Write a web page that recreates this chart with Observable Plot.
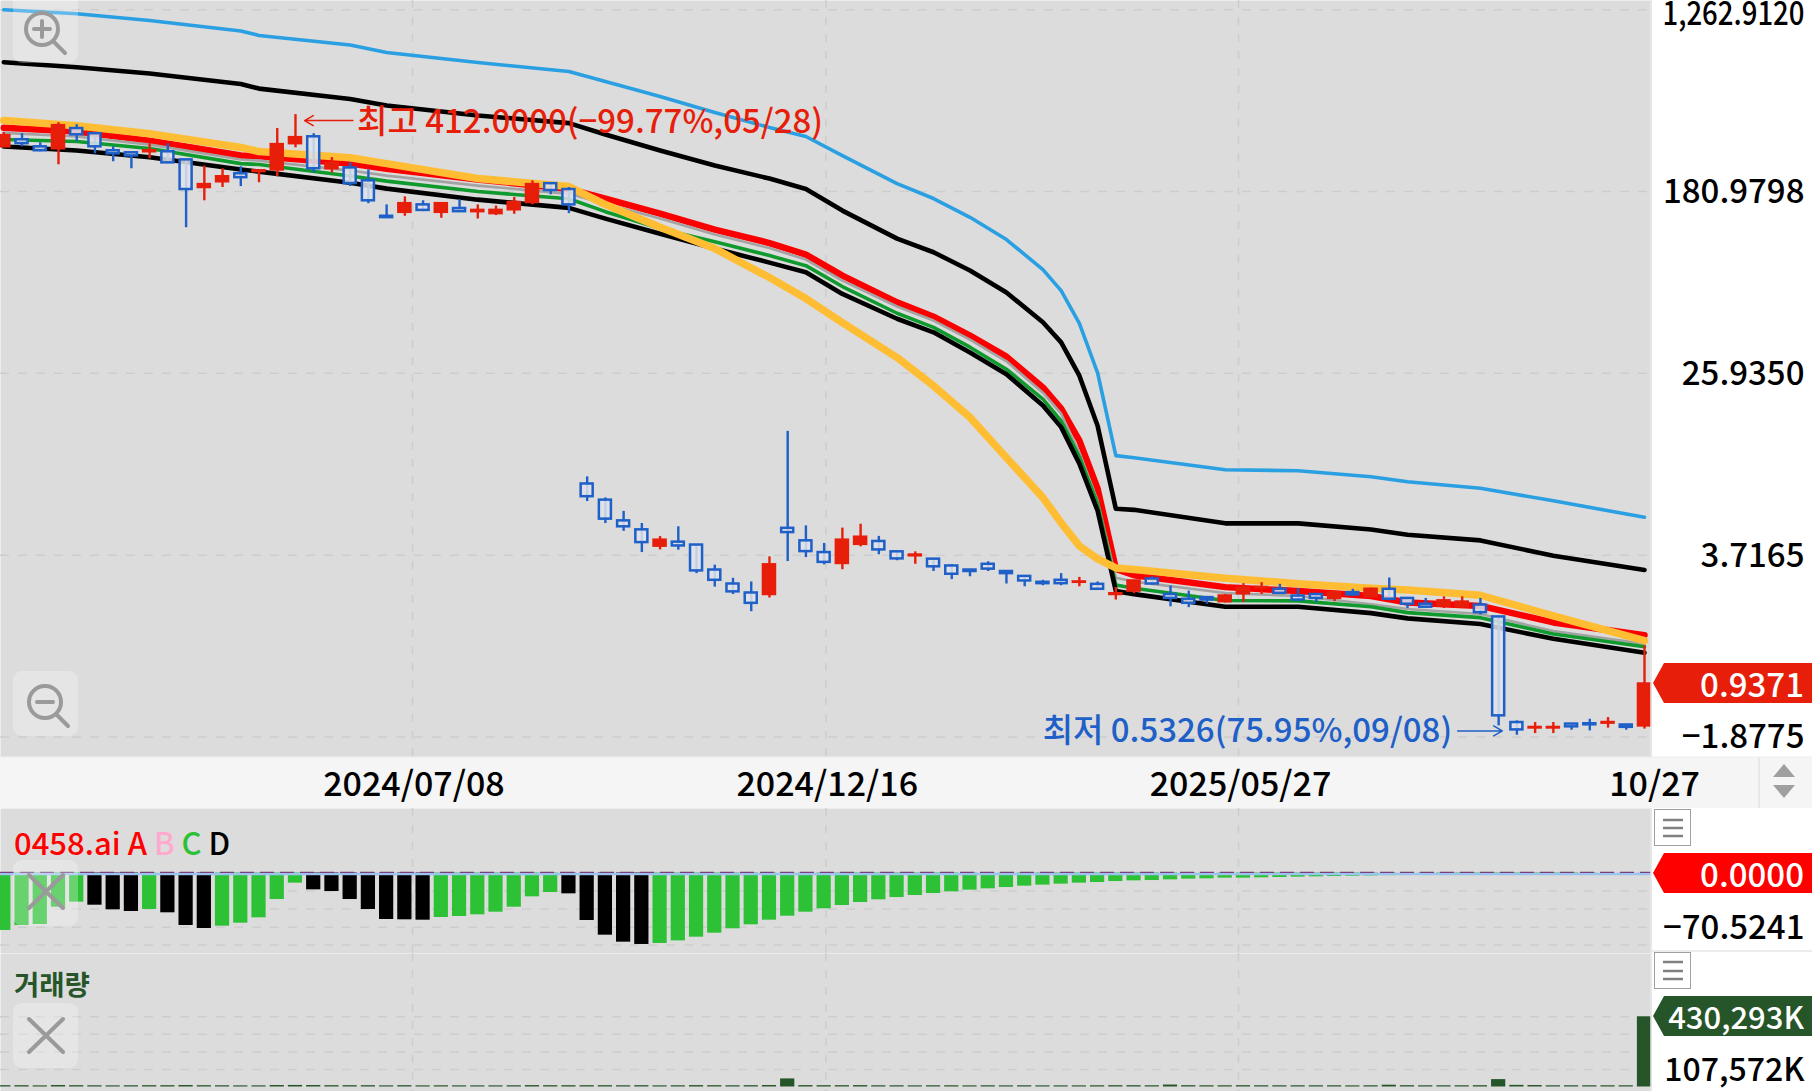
<!DOCTYPE html>
<html><head><meta charset="utf-8">
<script src="https://cdn.jsdelivr.net/npm/d3@7"></script>
<script src="https://cdn.jsdelivr.net/npm/@observablehq/plot@0.6"></script>
<style>
html,body{margin:0;padding:0;background:#fff;width:1812px;height:1091px;overflow:hidden;font-family:"Noto Sans CJK KR","Noto Sans",sans-serif}
#wrap{position:relative;width:1812px;height:1091px}
.pane{position:absolute;left:0}
.pane svg{display:block}
.tag{position:absolute;left:1653px;width:159px;height:40px;color:#fff;font-size:33px;font-weight:500;line-height:40px;text-align:right;box-sizing:border-box;padding-right:8px;clip-path:polygon(0 50%,11px 0,100% 0,100% 100%,11px 100%)}
.lab{position:absolute;left:14px;white-space:pre;font-weight:500}
#icons{position:absolute;left:0;top:0;pointer-events:none}
</style></head><body><div id="wrap"></div>
<script>
// ---- candle values, index 0..90 ----
const open = [292,315,292,286,355,336,280,274,277,277,254,189,201,219,224,228,302,325,231,233,203,139,145,157,145,151,146,143,149,161,197,185,
 7.95,6.69,5.36,4.87,4.09,4.27,4.14,3.17,2.73,2.48,2.44,4.95,4.33,3.82,3.40,4.17,4.30,3.85,3.69,3.56,3.31,3.17,3.37,3.12,2.96,2.78,2.84,2.78,2.72,2.44,
 2.53,2.88,2.44,2.32,2.36,2.26,2.46,2.62,2.58,2.40,2.44,2.34,2.49,2.38,2.58,2.34,2.20,2.16,2.14,2.18,1.92,0.621,0.586,0.586,0.611,0.613,0.617,0.605,0.599];
const high = [340,336,305,378,370,336,292,274,302,302,254,238,231,236,226,355,412,336,260,246,228,157,171,164,159,166,157,155,170,203,197,189,
 8.58,6.85,5.93,5.21,4.53,5.03,4.14,3.34,2.90,2.79,3.65,13.95,5.08,4.21,4.96,5.17,4.54,3.85,3.85,3.56,3.36,3.17,3.46,3.12,2.96,2.84,3.05,2.93,2.79,2.63,
 2.82,2.95,2.67,2.53,2.39,2.44,2.74,2.77,2.72,2.60,2.44,2.49,2.58,2.61,2.91,2.36,2.34,2.38,2.38,2.34,1.92,0.632,0.621,0.621,0.611,0.643,0.655,0.605,1.41];
const low = [289,292,277,241,308,271,249,231,257,244,123,164,189,191,199,212,289,221,221,191,159,137,139,146,136,145,135,140,142,157,175,143,
 6.59,5.21,4.79,3.82,3.93,3.92,3.05,2.64,2.44,2.03,2.35,3.47,3.62,3.35,3.18,4.06,3.73,3.50,3.37,3.12,2.86,2.95,3.12,2.73,2.65,2.68,2.68,2.65,2.55,2.30,
 2.46,2.70,2.14,2.12,2.20,2.23,2.24,2.44,2.46,2.28,2.24,2.26,2.38,2.36,2.28,2.10,2.12,2.10,2.10,1.96,0.599,0.542,0.552,0.552,0.572,0.568,0.585,0.572,0.579];
const close = [329,302,280,366,332,292,271,265,280,246,185,195,212,210,226,299,322,231,244,197,164,137,159,148,159,146,148,148,161,195,183,157,
 6.94,5.46,5.03,4.25,4.36,4.10,3.14,2.84,2.51,2.22,3.35,4.73,3.86,3.44,4.36,4.50,3.93,3.57,3.72,3.28,3.03,3.12,3.20,3.05,2.82,2.74,2.74,2.79,2.58,2.46,
 2.82,2.73,2.34,2.22,2.30,2.40,2.61,2.63,2.47,2.30,2.34,2.49,2.43,2.58,2.32,2.20,2.13,2.28,2.25,2.01,0.667,0.574,0.589,0.589,0.593,0.606,0.621,0.590,0.9371];

// ---- moving-average style lines, read at these candle indexes ----
const lineKnots = [0,4,8,13,14,19,21,26,31,33,36,39,42,44,46,49,51,53,55,57,58,59,60,61,62,67,71,75,77,81,85,90];
const upperBlue = [1262.9,1210,1126,1007,960,867,800,719,653,587,500,421,359,326,266,197,168,137.5,108.4,78.6,62.8,44.2,26.1,10.76,10.53,9.26,9.16,8.59,8.14,7.60,6.64,5.57];
const upperBlack = [721,684,639,571,544,487,454,408,376,333,280.5,239,208,186,147.7,109.5,94.6,77.8,61.5,44.8,36.1,25.3,14.8,6.10,6.03,5.22,5.22,4.89,4.62,4.35,3.69,3.17];
const orangeLine = [386.6,366,336,290,277.5,260,244,208,191,157.5,123.5,98.4,72.2,57.7,44.6,30.7,22.7,16.2,10.53,6.87,5.25,4.10,3.57,3.24,3.19,2.90,2.74,2.61,2.56,2.42,1.94,1.49];
const redLine = [357.6,344,312,266,264,244,231,206,186,168,143,120.5,104.4,92.3,73.7,55.4,47.5,38.8,31,22.3,17.8,12.63,7.56,3.21,3.0,2.64,2.53,2.40,2.24,2.16,1.81,1.58];
const grayLine = [339,325.8,299,254.8,252,226.5,214.7,192.9,176.6,159,135.6,114.3,98.9,87.5,69.9,53,45.6,37.2,29.5,21.1,16.85,11.1,6.64,2.92,2.80,2.48,2.40,2.20,2.09,1.98,1.65,1.44];
const greenLine = [315.5,309,286.6,244,241.6,213.6,202.4,181,167.5,146,121.8,106,91.3,82,65.6,49.3,42.4,34.3,27.1,19.7,15.6,10.64,6.43,2.70,2.61,2.29,2.28,2.14,2.01,1.905,1.60,1.395];
const lowerBlack = [292.8,280.5,261,229,224,199,186.8,166,152,135.6,115.2,98.4,84.7,76.4,60.6,46.5,40.2,32.4,25.7,18.4,14.6,9.88,5.97,2.53,2.45,2.14,2.14,2.0,1.89,1.78,1.52,1.31];

// ---- oscillator bars ----
const oscValues = [-74.8,-68.3,-67.0,-44.5,-37.9,-41.9,-47.9,-50.1,-47.5,-51.8,-68.3,-72.2,-69.2,-65.3,-58.3,-34.5,-13.2,-21.9,-24.1,-34.5,-47.5,-60.5,-60.9,-61.4,-57.9,-56.6,-54.4,-51.0,-44.5,-31.0,-25.4,-27.1,-61.8,-80.9,-90.0,-93.0,-91.7,-88.3,-83.5,-78.3,-72.6,-67.4,-61.4,-56.2,-51.0,-46.6,-42.3,-38.4,-34.9,-31.9,-29.3,-26.7,-24.5,-22.3,-20.6,-18.9,-17.1,-15.8,-14.5,-13.2,-12.4,-11.1,-10.2,-9.8,-8.9,-8.0,-7.6,-6.7,-6.7,-6.3,-5.9,-5.4,-5.0,-4.6,-4.2,-3.8,-3.4,-3.0,-2.7,-2.4,-2.1,-1.8,-1.5,-1.3,-1.1,-0.9,-0.7,-0.5,-0.4,-0.3,-0.2];
const oscBlackBars = [5,6,7,9,10,11,17,18,19,20,21,22,23,31,32,33,34,35];

// ---- volume (K) ----
const volumes = [8000,8000,7000,9000,8000,7500,7000,7500,8000,8000,9000,8000,7500,7000,7000,9000,9500,9000,8000,8000,8000,7000,8000,7000,7500,7000,7000,7000,7500,8500,8000,8000,
 8000,8000,7500,8000,7000,7500,8500,8000,7500,8000,9000,49600,8500,8000,8000,8500,7500,7500,7000,7500,7500,7000,7500,7000,7500,7000,7000,7000,7500,8000,
 8000,7500,12000,8000,7500,7500,8000,7500,7500,7500,7500,7500,7000,7500,11000,8000,7500,7500,7500,8000,45300,10000,9000,7500,7500,7500,7500,7500,430293];

// ---- axis labels ----
const priceTicks = [1262.912,180.9798,25.935,3.7165,0.5326];
const priceLabels = ["1,262.9120","180.9798","25.9350","3.7165","−1.8775"];
const xTickAt = [22.42,45.1,67.73];
const xLabels = ["2024/07/08","2024/12/16","2025/05/27","10/27"];
const xLabelAt = [22.5,45.17,67.84,90.55];
const oscGrid = [-23.5,-47,-70.5241,-93.7];
const volGrid = [430293,322720,215146,107572];

const W = 1812, RM = 161, IDX = [0,90], XR = [3.3,1644];
const BG = "#dcdcdc", GRID = "#cdcdcd", RED = "#e61e0a", BLUE = "#1e5fc8", FONT = '"Noto Sans CJK KR","Noto Sans",sans-serif';
const candles = open.map((o,i)=>({i,open:o,high:high[i],low:low[i],close:close[i]}));
const up = d => d.close >= d.open;
const lineRows = ys => lineKnots.map((k,j)=>({i:k,v:ys[j]}));
const xGrid = () => Plot.ruleX(xTickAt,{x:d=>d,stroke:GRID,strokeWidth:1.5,strokeDasharray:"8 9"});

function mount(node, top){ const d=document.createElement("div"); d.className="pane"; d.style.top=top+"px"; d.appendChild(node); document.getElementById("wrap").appendChild(d); return node; }

// main price pane
const mainPane = mount(Plot.plot({
  width:W,height:757,marginLeft:0,marginRight:RM,marginTop:0,marginBottom:0,
  style:{background:"#fff",fontFamily:FONT},
  x:{domain:IDX,range:XR,axis:null},
  y:{type:"log",domain:[1262.912,0.5326],range:[9.3,736.4],axis:null},
  marks:[
    Plot.frame({fill:BG,stroke:null}),
    Plot.ruleY(priceTicks,{y:d=>d,stroke:GRID,strokeWidth:1.5,strokeDasharray:"9 9"}),
    xGrid(),
    Plot.line(lineRows(upperBlue),{x:"i",y:"v",stroke:"#2a9fe2",strokeWidth:3.6}),
    Plot.line(lineRows(upperBlack),{x:"i",y:"v",stroke:"#000",strokeWidth:4.6}),
    Plot.line(lineRows(redLine),{x:"i",y:"v",stroke:"#fb0000",strokeWidth:6.5}),
    Plot.line(lineRows(grayLine),{x:"i",y:"v",stroke:"#a3a3a3",strokeWidth:2.6}),
    Plot.line(lineRows(greenLine),{x:"i",y:"v",stroke:"#0f9a2e",strokeWidth:3.6}),
    Plot.line(lineRows(lowerBlack),{x:"i",y:"v",stroke:"#000",strokeWidth:4.6}),
    Plot.line(lineRows(orangeLine),{x:"i",y:"v",stroke:"#ffbd33",strokeWidth:7.5}),
    Plot.ruleX(candles,{x:"i",y1:"low",y2:"high",stroke:d=>up(d)?RED:BLUE,strokeWidth:2.4}),
    Plot.rect(candles,{x1:d=>d.i-.33,x2:d=>d.i+.33,y1:"open",y2:"close",fill:d=>up(d)?RED:"#dfe3ea",fillOpacity:d=>up(d)?1:.85,stroke:d=>up(d)?RED:BLUE,strokeWidth:2.5}),
    Plot.arrow([{x1:19.15,y1:386.6,x2:16.5,y2:386.6}],{x1:"x1",y1:"y1",x2:"x2",y2:"y2",stroke:RED,strokeWidth:1.5,headLength:10,bend:0}),
    Plot.text(["최고 412.0000(−99.77%,05/28)"],{x:[19.38],y:[386.6],dy:2,text:d=>d,textAnchor:"start",fill:RED,fontSize:33,fontWeight:500}),
    Plot.arrow([{x1:79.75,y1:0.5675,x2:82.2,y2:0.5675}],{x1:"x1",y1:"y1",x2:"x2",y2:"y2",stroke:BLUE,strokeWidth:1.5,headLength:10,bend:0}),
    Plot.text(["최저 0.5326(75.95%,09/08)"],{x:[79.45],y:[0.5625],text:d=>d,textAnchor:"end",fill:BLUE,fontSize:33,fontWeight:500}),
    Plot.text(priceTicks,{y:d=>d,text:(d,i)=>priceLabels[i],frameAnchor:"right",dx:153,dy:1,textAnchor:"end",fill:"#000",fontSize:33,fontWeight:500})
  ]
}),0);
// the top label is squeezed to the common column width and kept inside the frame
for (const t of mainPane.querySelectorAll("text")) {
  if (t.textContent === "1,262.9120") {
    t.setAttribute("textLength","142"); t.setAttribute("lengthAdjust","spacingAndGlyphs");
    const tr=t.getAttribute("transform")||""; t.setAttribute("transform",tr+" translate(0,4)");
  }
}

// date strip
mount(Plot.plot({
  width:W,height:51,marginLeft:0,marginRight:RM,marginTop:0,marginBottom:0,
  style:{background:"#f5f5f5",fontFamily:FONT},
  x:{domain:IDX,range:XR,axis:null},
  marks:[
    Plot.text(xLabels,{x:(d,i)=>xLabelAt[i],dy:2.5,text:d=>d,frameAnchor:"middle",fill:"#000",fontSize:34,fontWeight:500})
  ]
}),757);

// oscillator
const blackSet = new Set(oscBlackBars);
mount(Plot.plot({
  width:W,height:145,marginLeft:0,marginRight:RM,marginTop:0,marginBottom:0,
  style:{background:"#fff",fontFamily:FONT},
  x:{domain:IDX,range:XR,axis:null},
  y:{domain:[0,-70.5241],range:[64.5,118.7],axis:null},
  marks:[
    Plot.frame({fill:BG,stroke:null}),
    Plot.ruleY(oscGrid,{y:d=>d,stroke:GRID,strokeWidth:1.5,strokeDasharray:"9 9"}),
    xGrid(),
    Plot.rect(oscValues,{x1:(d,i)=>i-.39,x2:(d,i)=>i+.39,y1:0,y2:d=>d,fill:(d,i)=>blackSet.has(i)?"#000":"#2dc136"}),
    Plot.ruleY([0],{stroke:"#9cc4ee",strokeWidth:2.4,dy:1}),
    Plot.ruleY([0],{stroke:"#7b3f7e",strokeWidth:1.3,strokeDasharray:"14 6",dy:-.6}),
    Plot.text(["−70.5241"],{y:[-70.5241],dy:1,text:d=>d,frameAnchor:"right",dx:153,textAnchor:"end",fill:"#000",fontSize:33,fontWeight:500})
  ]
}),808);

// volume
mount(Plot.plot({
  width:W,height:138,marginLeft:0,marginRight:RM,marginTop:0,marginBottom:0,
  style:{background:"#fff",fontFamily:FONT},
  x:{domain:IDX,range:XR,axis:null},
  y:{domain:[0,430293],range:[133.5,63.3],axis:null},
  marks:[
    Plot.frame({fill:BG,stroke:null}),
    Plot.ruleY(volGrid,{y:d=>d,stroke:GRID,strokeWidth:1.5,strokeDasharray:"9 9"}),
    xGrid(),
    Plot.rect(volumes,{x1:(d,i)=>i-.39,x2:(d,i)=>i+.39,y1:0,y2:d=>d,fill:"#27552a"}),
    Plot.text(["107,572K"],{y:[107572],dy:1,text:d=>d,frameAnchor:"right",dx:153,textAnchor:"end",fill:"#000",fontSize:32,fontWeight:500})
  ]
}),953);

// tags + labels
const wrap = document.getElementById("wrap");
function tag(txt,top,bg,fs){const t=document.createElement("div");t.className="tag";t.textContent=txt;t.style.top=top+"px";t.style.background=bg;if(fs)t.style.fontSize=fs+"px";wrap.appendChild(t);}
tag("0.9371",663,"#e61e0a"); tag("0.0000",853,"#ff0000"); tag("430,293K",996,"#27552a",31);
const l1=document.createElement("div");l1.className="lab";l1.style.cssText+="top:822px;font-size:31px;line-height:40px;color:#f00";
l1.innerHTML='0458.ai A <span style="color:#ffa9cf">B</span> <span style="color:#2dc136">C</span> <span style="color:#000">D</span>';wrap.appendChild(l1);
const l2=document.createElement("div");l2.className="lab";l2.style.cssText+="top:965px;font-size:27.5px;line-height:36px;color:#27552a;font-weight:700";l2.textContent="거래량";wrap.appendChild(l2);

// chrome icons
wrap.insertAdjacentHTML("beforeend",`<svg id="icons" width="1812" height="1091" fill="none">
 <g fill="#fff" fill-opacity=".28"><rect x="13" y="-8" width="65" height="71" rx="9"/><rect x="13" y="671" width="65" height="65" rx="9"/><rect x="13" y="860" width="65" height="66" rx="9"/><rect x="13" y="1003" width="65" height="65" rx="9"/></g>
 <g stroke="#9a9a9a" stroke-width="4" stroke-linecap="round">
  <circle cx="42" cy="29" r="16"/><path d="M54 42l11 11M34 29h16M42 21v16"/>
  <circle cx="45" cy="702" r="16"/><path d="M57 715l11 11M37 702h16"/>
  <path d="M29 875l34 33M63 875l-34 33M29 1019l34 33M63 1019l-34 33"/>
 </g>
 <path d="M1651 0V757M1651 808V1091" stroke="#e8e8e8" stroke-width="1.5"/>
 <path d="M1651 951H1812" stroke="#e6e6e6" stroke-width="1.5"/>
 <path d="M1759 757V808" stroke="#e2e2e2" stroke-width="1.5"/>
 <path d="M0 757H1812" stroke="#ededed"/>
 <path d="M1773 777l11-13 11 13zM1773 785l11 13 11-13z" fill="#9f9f9f"/>
 <g><rect x="1654.5" y="809.5" width="36" height="36" fill="#fff" stroke="#a0a0a0"/><rect x="1654.5" y="952.5" width="36" height="36" fill="#fff" stroke="#a0a0a0"/>
 <path d="M1663 820h20M1663 828h20M1663 836h20M1663 962h20M1663 971h20M1663 979h20" stroke="#808080" stroke-width="2.6"/></g>
</svg>`);
</script></body></html>
